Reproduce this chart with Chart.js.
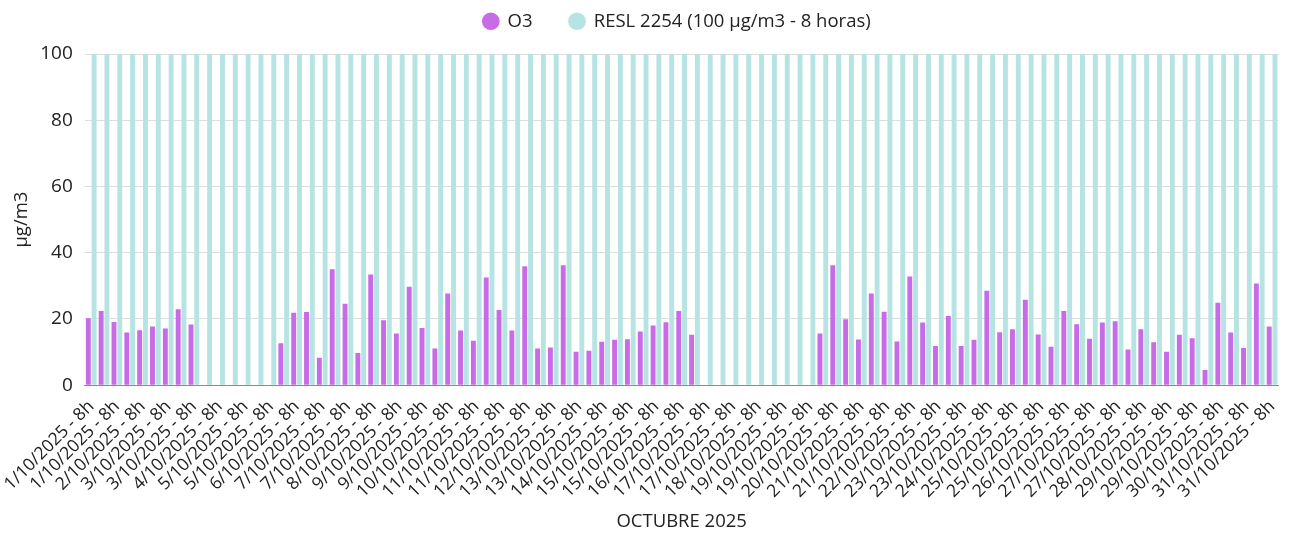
<!DOCTYPE html>
<html>
<head>
<meta charset="utf-8">
<script src="https://cdn.jsdelivr.net/npm/chart.js@4"></script>
<style>
  body { margin: 0; background: #fff; }
  #wrap { width: 1290px; height: 534px; }
</style>
</head>
<body>
<div id="wrap"><canvas id="o3Chart"></canvas></div>
<script>
// Días de octubre, tres medias octohorarias por día
var dias = [1,2,3,4,5,6,7,8,9,10,11,12,13,14,15,16,17,18,19,20,21,22,23,24,25,26,27,28,29,30,31];
var periodosPorDia = ["8h", "8h", "8h"];

// O3 (µg/m3), medias de 8 horas
var o3 = [
  20.2, 22.4, 19.1, 15.9, 16.6, 17.7, 17.1, 22.9, 18.3,
  null, null, null, null, null, null,
  12.7, 21.9, 22.1, 8.3, 35.0, 24.6, 9.7, 33.4, 19.6, 15.6, 29.7, 17.3,
  11.1, 27.7, 16.5, 13.4, 32.5, 22.7, 16.5, 35.9, 11.1, 11.4,
  36.2, 10.1, 10.4, 13.1, 13.7, 13.9, 16.2, 18.0, 19.0, 22.4, 15.2,
  null, null, null, null, null, null, null, null, null,
  15.6, 36.2, 19.9,
  13.8, 27.7, 22.2, 13.2, 32.8, 18.9, 11.8, 20.9, 11.8, 13.7,
  28.5, 16.0, 16.9, 25.8, 15.3, 11.6, 22.4, 18.4, 14.0, 18.9,
  19.3, 10.8, 16.9, 13.0, 10.1, 15.2, 14.2, 4.6, 24.9, 15.9,
  11.2, 30.7, 17.7
];

// Valor limite RESL 2254
var resl = [
  100,100,100,100,100,100,100,100,100,100,100,100,100,100,100,100,100,100,100,100,
  100,100,100,100,100,100,100,100,100,100,100,100,100,100,100,100,100,100,100,100,
  100,100,100,100,100,100,100,100,100,100,100,100,100,100,100,100,100,100,100,100,
  100,100,100,100,100,100,100,100,100,100,100,100,100,100,100,100,100,100,100,100,
  100,100,100,100,100,100,100,100,100,100,100,100,100
];

var yTicks = [0, 20, 40, 60, 80, 100];

var labels = [];
for (var d in dias) {
  for (var p in periodosPorDia) {
    labels.push(dias[d] + "/10/2025 - " + periodosPorDia[p]);
  }
}

Chart.defaults.font.family = "'Open Sans', sans-serif";
Chart.defaults.color = "#222";

// legend sits higher and leaves a gap above the plot
var legendPlacement = {
  id: 'legendPlacement',
  beforeInit: function(chart) {
    var fit = chart.legend.fit;
    chart.legend.fit = function() {
      fit.call(this);
      this.height = 54;
    };
  },
  afterLayout: function(chart) {
    chart.legend.top = -25;
    chart.legend.left += 36;
    chart.legend.right += 36;
  }
};

var ctx = document.getElementById('o3Chart').getContext('2d');
var chart = new Chart(ctx, {
  type: 'bar',
  data: {
    labels: labels,
    datasets: [{
      label: "O3",
      data: o3,
      backgroundColor: '#c86be6',
      borderWidth: 0,
      categoryPercentage: 0.9,
      barPercentage: 0.85
    },
    {
      label: "RESL 2254 (100 µg/m3 - 8 horas)",
      data: resl,
      backgroundColor: '#b5e4e2',
      borderWidth: 0,
      categoryPercentage: 0.9,
      barPercentage: 0.85
    }]
  },
  plugins: [legendPlacement],
  options: {
    responsive: true,
    maintainAspectRatio: false,
    animation: false,
    layout: { padding: { left: 2, right: 10, top: 0, bottom: 0 } },
    plugins: {
      legend: {
        position: 'top',
        labels: {
          usePointStyle: true,
          pointStyle: 'circle',
          boxWidth: 15,
          boxHeight: 12.5,
          padding: 37,
          font: { size: 18.5 }
        }
      },
      tooltip: { enabled: false }
    },
    scales: {
      x: {
        grid: { display: false },
        border: { display: true, color: '#8a8a8a' },
        title: {
          display: true,
          text: 'OCTUBRE 2025',
          padding: { top: 6, bottom: 1 },
          font: { size: 18.5 }
        },
        ticks: {
          autoSkip: false,
          minRotation: 45,
          maxRotation: 45,
          font: { size: 17.5 },
          callback: function(value, index) {
            return index % 2 === 0 ? labels[index] : '';
          }
        }
      },
      y: {
        min: 0,
        max: 100,
        afterBuildTicks: function(axis) {
          axis.ticks = yTicks.map(function(v) { return { value: v }; });
        },
        grid: { color: '#dddddd', drawTicks: false },
        border: { display: false },
        title: {
          display: true,
          text: 'µg/m3',
          padding: { top: 9, bottom: -5 },
          font: { size: 18.5 }
        },
        ticks: { padding: 12, font: { size: 19 } }
      }
    }
  }
});
</script>
</body>
</html>
